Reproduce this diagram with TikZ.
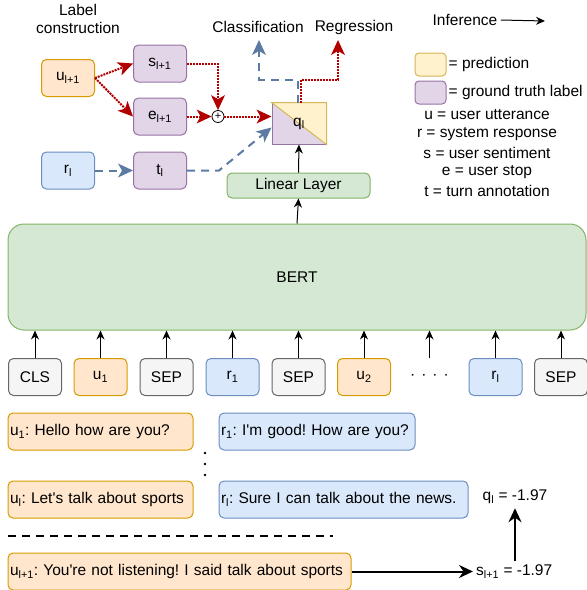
\documentclass[tikz,border=0pt]{standalone}
\usepackage{fontspec}
\setmainfont{Liberation Sans}
\usetikzlibrary{arrows.meta}

\definecolor{userFill}{HTML}{FFE6CC}
\definecolor{userLine}{HTML}{D79B00}
\definecolor{sysFill}{HTML}{DAE8FC}
\definecolor{sysLine}{HTML}{6C8EBF}
\definecolor{labFill}{HTML}{E1D5E7}
\definecolor{labLine}{HTML}{9673A6}
\definecolor{predFill}{HTML}{FFF2CC}
\definecolor{predLine}{HTML}{D6B656}
\definecolor{bertFill}{HTML}{D5E8D4}
\definecolor{bertLine}{HTML}{82B366}
\definecolor{tokFill}{HTML}{F5F5F5}
\definecolor{tokLine}{HTML}{666666}
\definecolor{infRed}{HTML}{B20000}
\definecolor{infBlue}{HTML}{5B7BA3}

\begin{document}
\frenchspacing
\begin{tikzpicture}[x = 1pt, y = -1pt, font = \fontsize{15.5}{18}\selectfont]
	\tikzstyle{boxStyle} = [rounded corners = 5pt, line width = 1pt, minimum width = 53pt, minimum height = 37pt, inner sep = 2pt]
	\tikzstyle{userStyle} = [boxStyle, draw = userLine, fill = userFill]
	\tikzstyle{sysStyle} = [boxStyle, draw = sysLine, fill = sysFill]
	\tikzstyle{labStyle} = [boxStyle, draw = labLine, fill = labFill]
	\tikzstyle{tokStyle} = [boxStyle, draw = tokLine, fill = tokFill]
	\tikzstyle{dlgStyle} = [boxStyle, align = left, inner xsep = 2pt]
	\tikzstyle{plainArrow} = [line width = 1pt, -{Stealth[length = 9pt, width = 8pt]}]
	\tikzstyle{boldArrow} = [line width = 2pt, -{Stealth[length = 14pt, width = 13pt]}]
	\tikzstyle{redArrow} = [infRed, line width = 2pt, densely dotted, -{Stealth[length = 15pt, width = 14pt, inset = 4pt, line width = 0pt]}]
	\tikzstyle{blueArrow} = [infBlue, line width = 2pt, dash pattern = on 8pt off 6pt, -{Stealth[length = 15pt, width = 14pt, inset = 4pt, line width = 0pt]}]
	\useasboundingbox (0,0) rectangle (587,590);
	\node[align = center] (labTitle) at (78,19) {Label\\construction};
	\node[userStyle] (ul1) at (68,78) {u\textsubscript{l+1}};
	\node[labStyle] (sl1) at (160,63.5) {s\textsubscript{l+1}};
	\node[labStyle] (el1) at (160,116.5) {e\textsubscript{l+1}};
	\node[sysStyle] (rl) at (68,170.5) {r\textsubscript{l}};
	\node[labStyle] (tl) at (160,170.5) {t\textsubscript{l}};
	\node[circle, draw, fill = white, line width = 0.8pt, minimum size = 12pt, inner sep = 0pt, font = \fontsize{11}{11}\selectfont] (plus) at (218,116.5) {+};
	\node[draw = labLine, fill = labFill, line width = 1pt, minimum width = 54pt, minimum height = 41pt] (q) at (299,123.5) {};
	\fill[predFill] (q.north west) -- (q.north east) -- (q.south east) -- cycle;
	\draw[predLine, line width = 1pt] (q.north west) -- (q.north east) -- (q.south east) -- cycle;
	\node (qLbl) at (q.center) {q\textsubscript{l}};
	\node (clsTxt) at (258,27) {Classification};
	\node (regTxt) at (354,27) {Regression};
	\coordinate (clsEnd) at (259,40);
	\coordinate (regEnd) at (338,40);
	\node[boxStyle, draw = bertLine, fill = bertFill, minimum width = 143pt, minimum height = 25pt] (lin) at (298.5,185.5) {Linear Layer};
	\node[boxStyle, rounded corners = 16pt, draw = bertLine, fill = bertFill, minimum width = 578pt, minimum height = 106pt] (bert) at (297,277) {BERT};
	\node[tokStyle] (tCls) at (35,377) {CLS};
	\node[userStyle] (tU1) at (100.5,377) {u\textsubscript{1}};
	\node[tokStyle] (tSep1) at (166.5,377) {SEP};
	\node[sysStyle] (tR1) at (232.5,377) {r\textsubscript{1}};
	\node[tokStyle] (tSep2) at (298.5,377) {SEP};
	\node[userStyle] (tU2) at (364,377) {u\textsubscript{2}};
	\node[minimum height = 37pt, inner sep = 2pt] (tDots) at (429.5,377) {·\hspace{6pt}·\hspace{6pt}·\hspace{6pt}·};
	\node[sysStyle] (tRl) at (495.5,377) {r\textsubscript{l}};
	\node[tokStyle] (tSep3) at (561,377) {SEP};
	\node[dlgStyle, userStyle, text width = 181pt] (dU1) at (100.5,431.5) {u\textsubscript{1}: Hello how are you?};
	\node[dlgStyle, sysStyle, text width = 192pt] (dR1) at (317,431.5) {r\textsubscript{1}: I\textquotesingle m good! How are you?};
	\node[dlgStyle, userStyle, text width = 181pt] (dUl) at (100.5,499.5) {u\textsubscript{l}: Let\textquotesingle s talk about sports};
	\node[dlgStyle, sysStyle, text width = 245pt] (dRl) at (343.5,499.5) {r\textsubscript{l}: Sure I can talk about the news.};
	\node[dlgStyle, userStyle, text width = 339pt] (dUl1) at (179.5,571.5) {u\textsubscript{l+1}: You\textquotesingle re not listening! I said talk about sports};
	\fill (205,453) circle (1.4) (205,464) circle (1.4) (205,475) circle (1.4);
	\coordinate (cutL) at (8,536);
	\coordinate (cutR) at (333,536);
	\draw[line width = 1.5pt, dash pattern = on 8pt off 6pt] (cutL) -- (cutR);
	\node[anchor = west, inner sep = 3pt] (sVal) at (473,571.5) {s\textsubscript{l+1} = -1.97};
	\node[inner sep = 4pt] (qVal) at (515,497) {q\textsubscript{l} = -1.97};
	\node (infTxt) at (465,20) {Inference};
	\coordinate (infEnd) at (545,21);
	\node[rounded corners = 4pt, draw = predLine, fill = predFill, line width = 1pt, minimum width = 31pt, minimum height = 23pt] (predBox) at (430.5,64.5) {};
	\node[anchor = west, inner sep = 2pt] (predTxt) at (predBox.east) {= prediction};
	\node[rounded corners = 4pt, draw = labLine, fill = labFill, line width = 1pt, minimum width = 31pt, minimum height = 23pt] (truthBox) at (430.5,92.5) {};
	\node[anchor = west, inner sep = 2pt] (truthTxt) at (truthBox.east) {= ground truth label};
	\node (keyU) at (487,115) {u = user utterance};
	\node (keyR) at (487,134) {r = system response};
	\node (keyS) at (487,153) {s = user sentiment};
	\node (keyE) at (487,172) {e = user stop};
	\node (keyT) at (487,191) {t = turn annotation};
	\draw[redArrow] (ul1.east) -- (sl1.west);
	\draw[redArrow] (ul1.east) -- (el1.west);
	\draw[redArrow] (sl1.east) -| (plus.north);
	\draw[redArrow] (el1.east) -- (plus.west);
	\draw[redArrow] (plus.east) -- (plus.east -| q.west);
	\draw[blueArrow] (rl.east) -- (tl.west);
	\draw[blueArrow] (tl.east) -- ++(32,0) -- ([yshift = -4pt]q.west);
	\draw[redArrow] ([xshift = 1.5pt]q.north) -- ++(0,-23) -| (regEnd);
	\draw[blueArrow] ([xshift = -1.5pt]q.north) -- ++(0,-23) -| (clsEnd);
	\draw[plainArrow] (lin.north) -- (q.south);
	\draw[plainArrow] (bert.north) -- (lin.south);
	\draw[plainArrow] (tCls.north) -- (tCls.north |- bert.south);
	\draw[plainArrow] (tU1.north) -- (tU1.north |- bert.south);
	\draw[plainArrow] (tSep1.north) -- (tSep1.north |- bert.south);
	\draw[plainArrow] (tR1.north) -- (tR1.north |- bert.south);
	\draw[plainArrow] (tSep2.north) -- (tSep2.north |- bert.south);
	\draw[plainArrow] (tU2.north) -- (tU2.north |- bert.south);
	\draw[plainArrow] (tDots.north) -- (tDots.north |- bert.south);
	\draw[plainArrow] (tRl.north) -- (tRl.north |- bert.south);
	\draw[plainArrow] (tSep3.north) -- (tSep3.north |- bert.south);
	\draw[boldArrow] (dUl1.east) -- (sVal.west);
	\draw[boldArrow] (sVal.north -| qVal.south) -- (qVal.south);
	\draw[plainArrow] (infTxt.east) -- (infEnd);
\end{tikzpicture}
\end{document}
